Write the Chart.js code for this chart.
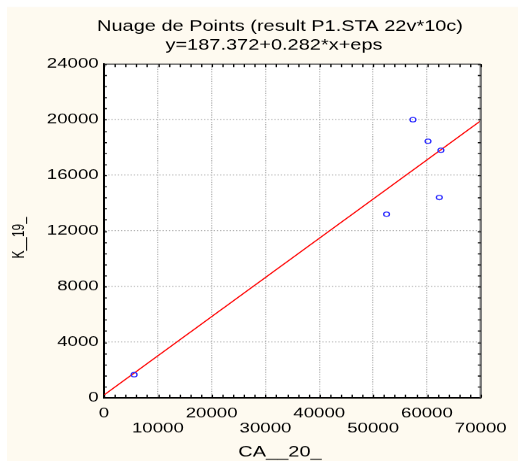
<!DOCTYPE html>
<html>
<head>
<meta charset="utf-8">
<script src="https://cdn.jsdelivr.net/npm/chart.js@4.4.1/dist/chart.umd.min.js"></script>
<style>
  html, body { margin: 0; padding: 0; background: #ffffff; overflow: hidden; }
</style>
</head>
<body>
<!-- the original export is stretched sideways, so the chart is laid out 389 wide and shown 518 wide -->
<canvas id="chart" width="389" height="461" style="width:518px;height:461px"></canvas>
<script>
const titleLines = ['Nuage de Points (result P1.STA 22v*10c)', 'y=187.372+0.282*x+eps'];
const xLabel = 'CA__20_';
const yLabel = 'K__19_';

// observations
const pointsX = [5600, 52500, 57400, 60200, 62300, 62600];
const pointsY = [1650, 13200, 20000, 18450, 14400, 17800];

// fitted line y = 187.372 + 0.282*x, at both ends of the x axis
const fitX = [0, 70000];
const fitY = [187.372, 19927.4];

// axes
const xMajor = [0, 10000, 20000, 30000, 40000, 50000, 60000, 70000];
const yMajor = [0, 4000, 8000, 12000, 16000, 20000, 24000];
const xMinorStep = 2000;
const yMinorStep = 800;

const K = 518 / 389;   // horizontal stretch
const FONT = '"Liberation Sans", Arial, sans-serif';

Chart.defaults.font.family = FONT;
Chart.defaults.color = '#000000';

const frame = {
    id: 'frame',
    beforeDraw(chart) {
        const { ctx, chartArea: a } = chart;
        ctx.save();
        ctx.fillStyle = '#ffffff';
        ctx.fillRect(0, 0, chart.width, chart.height);
        ctx.fillStyle = '#fefaf0';
        ctx.fillRect(7 / K, 7, chart.width, chart.height);
        ctx.fillStyle = '#ffffff';
        ctx.fillRect(a.left, a.top, a.right - a.left, a.bottom - a.top);
        ctx.restore();
    },
    afterDraw(chart) {
        const { ctx, chartArea: a, scales } = chart;
        ctx.save();

        // top and right edges of the frame
        ctx.lineWidth = 1.2;
        ctx.strokeStyle = '#505050';
        ctx.beginPath();
        ctx.moveTo(a.left, a.top);
        ctx.lineTo(a.right, a.top);
        ctx.stroke();
        ctx.lineWidth = 1.8;
        ctx.strokeStyle = '#7a7a7a';
        ctx.beginPath();
        ctx.moveTo(a.right, a.top);
        ctx.lineTo(a.right, a.bottom);
        ctx.stroke();

        // small ticks on the inside of all four sides
        ctx.lineWidth = 1;
        ctx.strokeStyle = '#000000';
        ctx.beginPath();
        scales.x.ticks.forEach(t => {
            const px = Math.round(scales.x.getPixelForValue(t.value)) + 0.5;
            ctx.moveTo(px, a.bottom); ctx.lineTo(px, a.bottom - 3);
            ctx.moveTo(px, a.top); ctx.lineTo(px, a.top + 3);
        });
        scales.y.ticks.forEach(t => {
            const py = Math.round(scales.y.getPixelForValue(t.value)) + 0.5;
            ctx.moveTo(a.left, py); ctx.lineTo(a.left + 2.2, py);
            ctx.moveTo(a.right, py); ctx.lineTo(a.right - 2.2, py);
        });
        ctx.stroke();

        // titles
        ctx.fillStyle = '#000000';
        ctx.textAlign = 'center';
        ctx.textBaseline = 'alphabetic';
        ctx.font = '15px ' + FONT;
        ctx.fillText(titleLines[0], 280 / K, 31);
        ctx.fillText(titleLines[1], 274 / K, 49.5);
        ctx.fillText(xLabel, 280 / K, 456);

        ctx.font = '12px ' + FONT;
        ctx.translate(23.5 / K, 237.5);
        ctx.rotate(-Math.PI / 2);
        ctx.fillText(yLabel, 0, 0);
        ctx.restore();
    }
};

new Chart(document.getElementById('chart'), {
    type: 'scatter',
    data: {
        datasets: [
            {
                label: 'observations',
                data: pointsX.map((x, i) => ({ x: x, y: pointsY[i] })),
                pointStyle: 'circle',
                pointRadius: 2.2,
                pointBorderWidth: 1,
                pointBorderColor: '#2b2bff',
                pointBackgroundColor: 'rgba(0,0,0,0)'
            },
            {
                type: 'line',
                label: 'fit',
                data: fitX.map((x, i) => ({ x: x, y: fitY[i] })),
                borderColor: '#ff0000',
                borderWidth: 1,
                pointRadius: 0,
                fill: false,
                tension: 0
            }
        ]
    },
    options: {
        responsive: false,
        devicePixelRatio: K,
        animation: false,
        events: [],
        layout: { padding: { left: 0, right: 24, top: 64, bottom: 0 } },
        plugins: { legend: { display: false }, tooltip: { enabled: false } },
        scales: {
            x: {
                type: 'linear',
                min: 0,
                max: 70000,
                afterFit: s => { s.height = 64; },
                ticks: {
                    stepSize: xMinorStep,
                    autoSkip: false,
                    maxRotation: 0,
                    padding: 8.5,
                    font: { size: 14, lineHeight: 1.07 },
                    callback: v => {
                        const i = xMajor.indexOf(v);
                        if (i < 0) return '';
                        return i % 2 ? ['', String(v)] : String(v);
                    }
                },
                grid: {
                    drawTicks: false,
                    lineWidth: 1,
                    color: c => {
                        const v = c.tick ? c.tick.value : null;
                        return (xMajor.includes(v) && v > 0 && v < 70000) ? '#b4b4b4' : 'rgba(0,0,0,0)';
                    }
                },
                border: { color: '#000000', width: 1.5, dash: [1, 1.4] }
            },
            y: {
                min: 0,
                max: 24000,
                afterFit: s => { s.width = 104 / K; },
                ticks: {
                    stepSize: yMinorStep,
                    autoSkip: false,
                    padding: 4,
                    font: { size: 14 },
                    callback: v => yMajor.includes(v) ? String(v) : ''
                },
                grid: {
                    drawTicks: false,
                    lineWidth: 1,
                    color: c => {
                        const v = c.tick ? c.tick.value : null;
                        return (yMajor.includes(v) && v > 0 && v < 24000) ? '#b4b4b4' : 'rgba(0,0,0,0)';
                    }
                },
                border: { color: '#000000', width: 1.5, dash: [1, 1.4] }
            }
        }
    },
    plugins: [frame]
});
</script>
</body>
</html>
